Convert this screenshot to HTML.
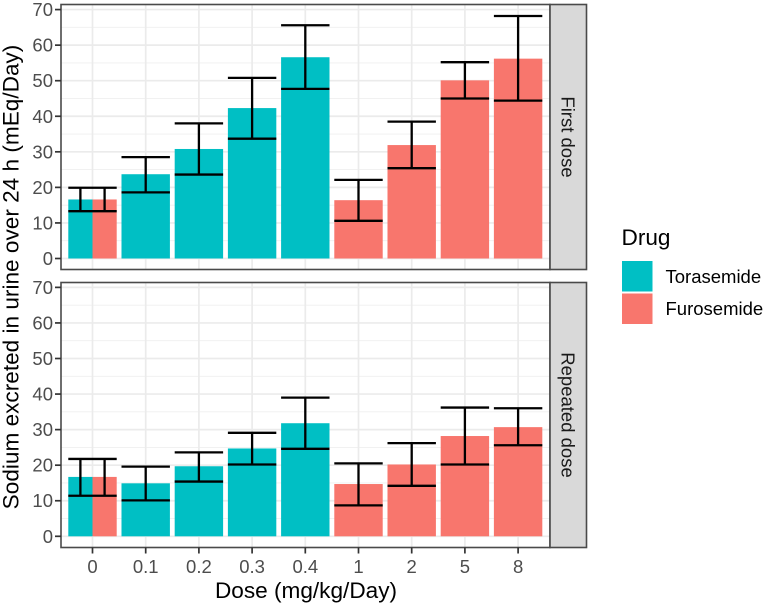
<!DOCTYPE html>
<html lang="en">
<head>
<meta charset="utf-8">
<title>Sodium excretion by dose</title>
<style>
html,body{margin:0;padding:0;background:#fff;width:767px;height:607px;overflow:hidden}
svg{display:block;font-family:"Liberation Sans",Arial,sans-serif}
</style>
</head>
<body>
<svg id="chart" xmlns="http://www.w3.org/2000/svg" width="767" height="607" viewBox="0 0 767 607">
  <rect x="0" y="0" width="767" height="607" fill="#ffffff"/>
  <g id="panels"></g>
  <text transform="translate(18.5,277) rotate(-90)" text-anchor="middle" font-size="22.6" fill="#000">Sodium excreted in urine over 24 h (mEq/Day)</text>
  <text x="306" y="598" text-anchor="middle" font-size="22.6" fill="#000">Dose (mg/kg/Day)</text>
  <g>
    <text x="621.5" y="245" font-size="22.6" fill="#000">Drug</text>
    <rect x="622" y="261" width="30.5" height="30.5" fill="#00BFC4"/>
    <text x="665.5" y="283" font-size="18.5" fill="#000">Torasemide</text>
    <rect x="622" y="293.5" width="30.5" height="30.5" fill="#F8766D"/>
    <text x="665.5" y="315" font-size="18.5" fill="#000">Furosemide</text>
  </g>
</svg>
<script>
const doseLabels = ["0","0.1","0.2","0.3","0.4","1","2","5","8"];
const yTickLabels = [0,10,20,30,40,50,60,70];
const yMinorTicks = [5,15,25,35,45,55,65];
const facetNames = ["First dose","Repeated dose"];

const torasemideDoses = ["0","0.1","0.2","0.3","0.4"];
const furosemideDoses = ["0","1","2","5","8"];

const firstTorasemideMean = [16.6,23.7,30.8,42.3,56.6];
const firstTorasemideHigh = [19.9,28.5,38.0,50.8,65.6];
const firstTorasemideLow = [13.3,18.6,23.6,33.7,47.7];
const firstFurosemideMean = [16.6,16.4,31.9,50.1,56.2];
const firstFurosemideHigh = [19.9,22.1,38.5,55.2,68.2];
const firstFurosemideLow = [13.3,10.6,25.4,45.0,44.4];

const repeatTorasemideMean = [16.7,14.9,19.7,24.7,31.8];
const repeatTorasemideHigh = [21.75,19.6,23.6,29.1,39.0];
const repeatTorasemideLow = [11.4,10.1,15.4,20.2,24.6];
const repeatFurosemideMean = [16.7,14.7,20.2,28.2,30.7];
const repeatFurosemideHigh = [21.75,20.5,26.2,36.2,36.0];
const repeatFurosemideLow = [11.4,8.7,14.2,20.2,25.6];

const NS = "http://www.w3.org/2000/svg";
const root = document.getElementById("panels");
const colors = {torasemide:"#00BFC4", furosemide:"#F8766D"};
const plotLeft = 61, plotRight = 550, stripRight = 586.5;
const xStart = 92.5, xStep = 53.2, barFraction = 0.91;
const unit = 3.556;

function xScale(label){ return xStart + doseLabels.indexOf(label) * xStep; }

function make(tag, attrs, parent){
  const el = document.createElementNS(NS, tag);
  for (const k in attrs) el.setAttribute(k, attrs[k]);
  parent.appendChild(el);
  return el;
}

function drawPanel(facetIndex, top, bottom, zeroY, tData, fData){
  const yScale = v => zeroY - v * unit;
  const g = make("g", {}, root);
  
  

  yMinorTicks.forEach(v => {
    const l = make("line", {x1:plotLeft,x2:plotRight,y1:yScale(v),y2:yScale(v),stroke:"#efefef","stroke-width":0.9}, g);
    
    
  });
  yTickLabels.forEach(v => {
    const l = make("line", {x1:plotLeft,x2:plotRight,y1:yScale(v),y2:yScale(v),stroke:"#ebebeb","stroke-width":1.7}, g);
    
    
  });
  doseLabels.forEach(d => {
    const l = make("line", {x1:xScale(d),x2:xScale(d),y1:top,y2:bottom,stroke:"#ebebeb","stroke-width":1.7}, g);
    
    
  });

  const series = [
    {name:"torasemide", doses:torasemideDoses, data:tData},
    {name:"furosemide", doses:furosemideDoses, data:fData}
  ];
  const fullWidth = xStep * barFraction;
  const marks = [];
  series.forEach(s => {
    s.doses.forEach((d, i) => {
      const shared = torasemideDoses.includes(d) && furosemideDoses.includes(d);
      const w = shared ? fullWidth / 2 : fullWidth;
      const cx = shared ? xScale(d) + (s.name === "torasemide" ? -w/2 : w/2) : xScale(d);
      marks.push({name:s.name, dose:d, cx, w, mean:s.data.mean[i], high:s.data.high[i], low:s.data.low[i]});
    });
  });
  marks.forEach(m => {
    const r = make("rect", {x:m.cx-m.w/2,y:yScale(m.mean),width:m.w,height:yScale(0)-yScale(m.mean),fill:colors[m.name]}, g);
    
    
  });
  marks.forEach(m => {
    const eb = make("path", {
      d:"M"+(m.cx-m.w/2)+" "+yScale(m.high)+"H"+(m.cx+m.w/2)+
        "M"+m.cx+" "+yScale(m.high)+"V"+yScale(m.low)+
        "M"+(m.cx-m.w/2)+" "+yScale(m.low)+"H"+(m.cx+m.w/2),
      fill:"none",stroke:"#000","stroke-width":2.3
    }, g);
    
    
  });

  const border = make("rect", {x:plotLeft,y:top,width:plotRight-plotLeft,height:bottom-top,fill:"none",stroke:"#4a4a4a","stroke-width":1.6}, g);
  
  

  const strip = make("rect", {x:plotRight,y:top,width:stripRight-plotRight,height:bottom-top,fill:"#d9d9d9",stroke:"#4a4a4a","stroke-width":1.6}, g);
  
  

  const cy = (top + bottom) / 2;
  const st = make("text", {transform:"translate(561.5,"+cy+") rotate(90)","text-anchor":"middle","font-size":"18.5",fill:"#1a1a1a"}, g);
  st.textContent = facetNames[facetIndex];
  
  

  yTickLabels.forEach(v => {
    const t = make("line", {x1:plotLeft-6,x2:plotLeft,y1:yScale(v),y2:yScale(v),stroke:"#333","stroke-width":1.7}, g);
    
    
    const lab = make("text", {x:plotLeft-8,y:yScale(v)+6.5,"text-anchor":"end","font-size":"18.5",fill:"#4d4d4d"}, g);
    lab.textContent = v;
    
    
  });
}

drawPanel(0, 4.5, 269.5, 258.5,
  {mean:firstTorasemideMean, high:firstTorasemideHigh, low:firstTorasemideLow},
  {mean:firstFurosemideMean, high:firstFurosemideHigh, low:firstFurosemideLow});
drawPanel(1, 282.5, 547.5, 536.3,
  {mean:repeatTorasemideMean, high:repeatTorasemideHigh, low:repeatTorasemideLow},
  {mean:repeatFurosemideMean, high:repeatFurosemideHigh, low:repeatFurosemideLow});

doseLabels.forEach(d => {
  const t = make("line", {x1:xScale(d),x2:xScale(d),y1:547.5,y2:553.5,stroke:"#333","stroke-width":1.7}, root);
  
  
  const lab = make("text", {x:xScale(d),y:573,"text-anchor":"middle","font-size":"18.5",fill:"#4d4d4d"}, root);
  lab.textContent = d;
  
  
});
</script>
</body>
</html>
